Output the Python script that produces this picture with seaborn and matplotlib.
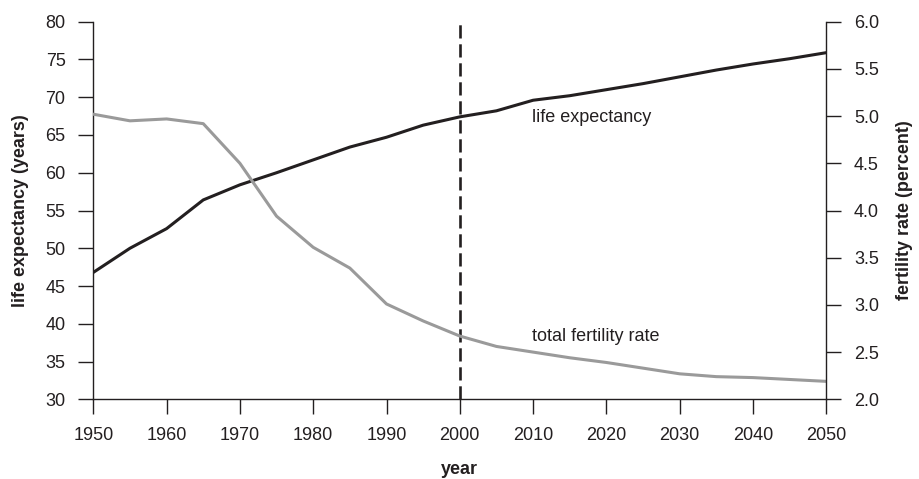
import matplotlib
matplotlib.use("Agg")
import matplotlib.pyplot as plt
import seaborn as sns
import pandas as pd

# data
years = [1950, 1955, 1960, 1965, 1970, 1975, 1980, 1985, 1990, 1995, 2000,
         2005, 2010, 2015, 2020, 2025, 2030, 2035, 2040, 2045, 2050]
life_expectancy = [46.8, 50.0, 52.6, 56.4, 58.4, 60.0, 61.7, 63.4, 64.7, 66.3, 67.4,
                   68.2, 69.6, 70.2, 71.0, 71.8, 72.7, 73.6, 74.4, 75.1, 75.9]
fertility_rate = [5.02, 4.95, 4.97, 4.92, 4.50, 3.94, 3.61, 3.39, 3.01, 2.83, 2.67,
                  2.56, 2.50, 2.44, 2.39, 2.33, 2.27, 2.24, 2.23, 2.21, 2.19]
x_ticks = list(range(1950, 2051, 10))
left_ticks = list(range(30, 81, 5))
right_ticks = [2.0, 2.5, 3.0, 3.5, 4.0, 4.5, 5.0, 5.5, 6.0]

df = pd.DataFrame({'year': years, 'life': life_expectancy, 'fert': fertility_rate})

sns.set_style('ticks')
plt.rcParams['font.family'] = ['Liberation Sans', 'DejaVu Sans']
plt.rcParams['axes.linewidth'] = 1.0

ink = '#231f20'
fig = plt.figure(figsize=(9.19, 4.79), dpi=100)
ax = fig.add_axes([93.3 / 919, 1 - 399.3 / 479, (826.3 - 93.3) / 919, (399.3 - 21.7) / 479])
ax2 = ax.twinx()

sns.lineplot(data=df, x='year', y='life', ax=ax, color=ink, linewidth=2.2)
sns.lineplot(data=df, x='year', y='fert', ax=ax2, color='#9a9a9a', linewidth=2.2)
# dashed marker for the year 2000
ax.axvline(2000, color=ink, linewidth=1.9, linestyle=(0, (5, 2.2)))

ax.set_xlim(1950, 2050)
ax.set_ylim(30, 80)
ax2.set_ylim(2.0, 6.0)
ax.set_xticks(x_ticks)
ax.set_yticks(left_ticks)
ax2.set_yticks(right_ticks)
ax2.set_yticklabels([f'{v:.1f}' for v in right_ticks])

for a in (ax, ax2):
    a.spines['top'].set_visible(False)
    for s in a.spines.values():
        s.set_color(ink)
    a.tick_params(length=11, width=1, color=ink, labelsize=13, labelcolor=ink, pad=9)
ax.spines['right'].set_visible(False)
ax2.spines['left'].set_visible(False)
ax2.spines['bottom'].set_visible(False)

ax.set_xlabel('year', fontsize=13, fontweight='bold', color=ink, labelpad=12)
ax.set_ylabel('life expectancy (years)', fontsize=13, fontweight='bold', color=ink, labelpad=12)
ax2.set_ylabel('fertility rate (percent)', fontsize=13, fontweight='bold', color=ink,
               rotation=90, labelpad=12)

ax.text(2009.8, 67.3, 'life expectancy', fontsize=13, color=ink, va='center')
ax2.text(2009.8, 2.67, 'total fertility rate', fontsize=13, color=ink, va='center')

fig.savefig('out.png', dpi=100)
